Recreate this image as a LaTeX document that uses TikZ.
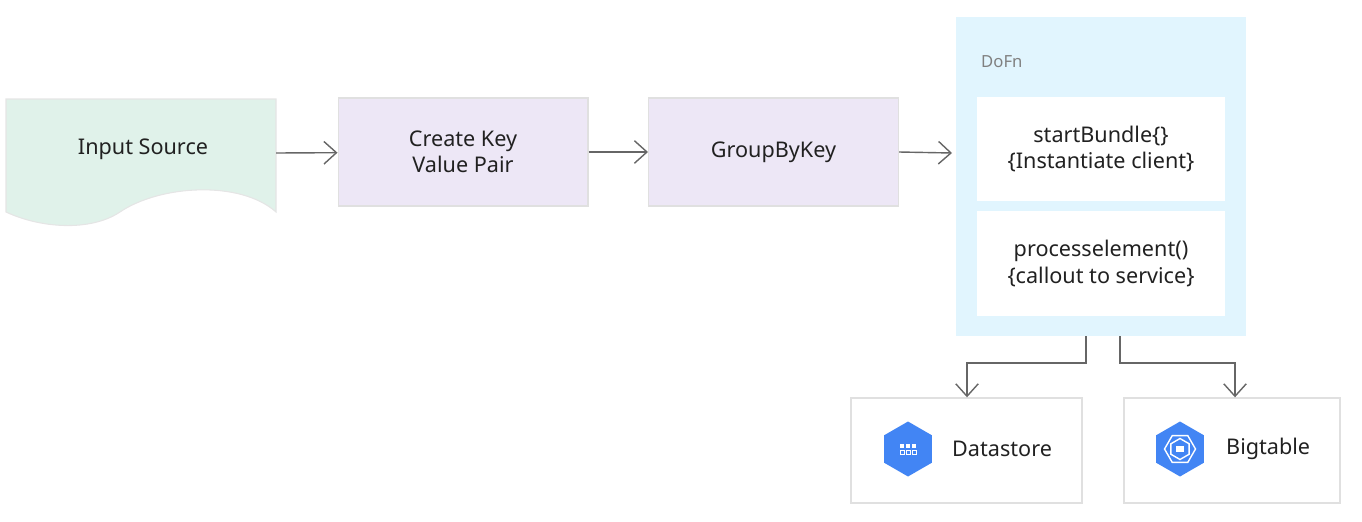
\documentclass[tikz,border=0pt]{standalone}
\usepackage{fontspec}
\setmainfont{Noto Sans}
\usetikzlibrary{calc,positioning,arrows.meta,shapes.geometric}
\definecolor{srcgreen}{HTML}{E0F2EA}
\definecolor{stepviolet}{HTML}{EDE7F6}
\definecolor{dofnblue}{HTML}{E1F5FE}
\definecolor{gcpblue}{HTML}{4285F4}
\definecolor{txtgray}{HTML}{212121}

\begin{document}
\begin{tikzpicture}[x=0.02cm,y=-0.02cm,
    font=\fontsize{12.3}{15}\selectfont,text=txtgray,
    stepbox/.style={draw=black!12,fill=stepviolet,line width=0.6pt,minimum width=5cm,minimum height=2.16cm,align=center,inner sep=0pt},
    innerbox/.style={fill=white,minimum width=4.96cm,minimum height=2.1cm,align=center,inner sep=0pt},
    storebox/.style={draw=black!12,fill=white,line width=0.8pt,minimum height=2.1cm,inner sep=0pt},
    hexicon/.style={regular polygon,regular polygon sides=6,shape border rotate=90,fill=gcpblue,minimum size=1.1cm,inner sep=0pt},
    flow/.style={draw=black!60,line width=0.8pt,-{Straight Barb[length=2.5mm,width=4.5mm]}}]

    \useasboundingbox (0,0) rectangle (1362,521);

    % input source with wavy bottom
    \fill[srcgreen,draw=black!10,line width=0.6pt] (6,99) -- (276,99) -- (276,212)
      .. controls (240,180) and (160,185) .. (120,212)
      .. controls (90,232) and (40,228) .. (6,212) -- cycle;
    \node (source) at (143,149) {Input Source};
    \coordinate (sourceout) at (276,153);

    \node[stepbox] (pair) at (463,152) {Create Key\\Value Pair};
    \node[stepbox] (group) at (773.5,152) {GroupByKey};

    % DoFn container
    \node[fill=dofnblue,minimum width=5.8cm,minimum height=6.38cm,inner sep=0pt] (dofn) at (1101,176.5) {};
    \node[text=black!50,font=\fontsize{9.5}{11}\selectfont,anchor=west] at (975,62) {DoFn};
    \node[innerbox] (bundle) at (1101,149) {startBundle\{\}\\\{Instantiate client\}};
    \node[innerbox] (process) at (1101,263.5) {processelement()\\\{callout to service\}};
    \coordinate (dofnin) at (952,153);

    % sinks
    \node[storebox,minimum width=4.62cm] (datastore) at (966.5,450.5) {};
    \node[hexicon] (dsicon) at (908,449) {};
    \foreach \i in {-1,0,1} {
      \fill[white] ($(dsicon)+(\i*6-2,-5)$) rectangle ++(4,4);
      \draw[white,line width=0.5pt] ($(dsicon)+(\i*6-2,1)$) rectangle ++(4,4);
    }
    \node[anchor=west] at (946,449) {Datastore};

    \node[storebox,minimum width=4.32cm] (bigtable) at (1232,450.5) {};
    \node[hexicon] (bticon) at (1180,449) {};
    \node[regular polygon,regular polygon sides=6,draw=white,line width=0.8pt,minimum size=0.62cm,inner sep=0pt] at (bticon) {};
    \node[regular polygon,regular polygon sides=6,shape border rotate=30,draw=white,line width=0.8pt,minimum size=0.42cm,inner sep=0pt] at (bticon) {};
    \fill[white] ($(bticon)+(-4,-3)$) rectangle ++(8,6);
    \node[anchor=west] at (1220,449) {Bigtable};

    % connectors
    \draw[flow] (sourceout) -- (pair);
    \draw[flow] (pair) -- (group);
    \draw[flow] (group.east) -- (dofnin);
    \draw[flow] (1086,336) -- (1086,363) -- (967,363) -- (datastore.north -| 967,0);
    \draw[flow] (1120,336) -- (1120,363) -- (1235,363) -- (bigtable.north -| 1235,0);
\end{tikzpicture}
\end{document}
